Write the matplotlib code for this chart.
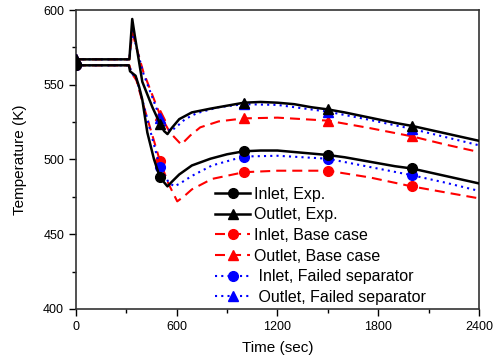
import matplotlib
matplotlib.use("Agg")
import matplotlib.pyplot as plt
from matplotlib.ticker import MultipleLocator
import numpy as np

plt.rcParams['font.family'] = ['Liberation Sans', 'DejaVu Sans']

# experimental data
t_in_exp = [0, 315, 322, 355, 375, 395, 425, 465, 500, 530, 545, 570, 615, 690, 800, 900,
            1000, 1100, 1200, 1300, 1400, 1500, 1600, 1750, 1900, 2000, 2200, 2400]
T_in_exp = [563, 563, 559, 556, 549, 540, 518, 500, 488, 484, 482, 485, 490, 496, 500.5, 503.5,
            505.5, 506, 506, 505, 504, 503, 501.5, 498.5, 495.5, 494, 489, 484]

t_out_exp = [0, 318, 335, 350, 395, 455, 500, 525, 545, 570, 615, 690, 800, 900,
             1000, 1100, 1200, 1300, 1400, 1500, 1600, 1750, 1900, 2000, 2200, 2400]
T_out_exp = [567, 567, 594, 583, 552, 535, 524, 519, 517, 521, 527, 531.5, 534, 536,
             538, 538.5, 538, 537, 535, 533.5, 531.5, 528, 524.5, 522.5, 517.5, 512.5]

# base case
t_in_base = [0, 318, 330, 360, 400, 450, 500, 550, 603, 640, 690, 810,
             1000, 1200, 1500, 1750, 2000, 2200, 2400]
T_in_base = [563, 563, 558, 553, 537, 518, 499, 484, 472, 475, 480, 487,
             491.5, 492.5, 492.5, 488, 482, 478, 474]

t_out_base = [0, 318, 335, 400, 500, 560, 627, 680, 740, 850,
              1000, 1200, 1500, 1750, 2000, 2200, 2400]
T_out_base = [567, 567, 585, 559, 530, 518, 510, 516, 521.5, 525.5,
              527.5, 528, 526, 521, 515.5, 510, 505]

# failed separator
t_in_fail = [0, 318, 330, 360, 400, 450, 500, 550, 585, 620, 690, 810,
             1000, 1200, 1500, 1750, 2000, 2200, 2400]
T_in_fail = [563, 563, 558, 554, 538, 516, 495, 485, 482, 484, 489, 496,
             502, 502.5, 500.5, 495, 489.5, 484.5, 479]

t_out_fail = [0, 318, 335, 400, 500, 540, 565, 600, 650, 720, 850,
              1000, 1200, 1500, 1750, 2000, 2200, 2400]
T_out_fail = [567, 567, 586, 558, 528, 521, 519, 522, 527, 531, 535,
              537, 536.5, 532, 526.5, 520.5, 515, 509.5]

marker_t = [0, 500, 1000, 1500, 2000]


def marks(t):
    return [t.index(m) for m in marker_t]


fig = plt.figure(figsize=(4.94, 3.6), dpi=100)
ax = fig.add_axes([0.1538, 0.1417, 0.8158, 0.8305])

red_dash = (0, (4.8, 2.9))
blue_dot = (0, (1, 2))

ax.plot(t_in_base, T_in_base, color='red', ls=red_dash, lw=1.5, marker='o', ms=7,
        markevery=marks(t_in_base), label='Inlet, Base case', zorder=2)
ax.plot(t_out_base, T_out_base, color='red', ls=red_dash, lw=1.5, marker='^', ms=7,
        markevery=marks(t_out_base), label='Outlet, Base case', zorder=2)
ax.plot(t_in_fail, T_in_fail, color='blue', ls=blue_dot, lw=1.5, marker='o', ms=7,
        markevery=marks(t_in_fail), label=' Inlet, Failed separator', zorder=3)
ax.plot(t_out_fail, T_out_fail, color='blue', ls=blue_dot, lw=1.5, marker='^', ms=7,
        markevery=marks(t_out_fail), label=' Outlet, Failed separator', zorder=3)
ax.plot(t_in_exp, T_in_exp, color='black', lw=1.8, marker='o', ms=7,
        markevery=marks(t_in_exp), label='Inlet, Exp.', zorder=4)
ax.plot(t_out_exp, T_out_exp, color='black', lw=1.8, marker='^', ms=7,
        markevery=marks(t_out_exp), label='Outlet, Exp.', zorder=4)

ax.set_xlim(0, 2400)
ax.set_ylim(400, 600)
ax.xaxis.set_major_locator(MultipleLocator(600))
ax.xaxis.set_minor_locator(MultipleLocator(300))
ax.yaxis.set_major_locator(MultipleLocator(50))
ax.yaxis.set_minor_locator(MultipleLocator(25))
ax.tick_params(which='both', direction='out', top=False, right=False, labelsize=9)
ax.tick_params(which='major', length=5, width=1)
ax.tick_params(which='minor', length=3, width=1)
for s in ax.spines.values():
    s.set_linewidth(1.2)
    s.set_color('#333333')

ax.set_xlabel('Time (sec)', fontsize=11, labelpad=6)
ax.set_ylabel('Temperature (K)', fontsize=11, labelpad=12)

h, l = ax.get_legend_handles_labels()
order = [4, 5, 0, 1, 2, 3]
ax.legend([h[i] for i in order], [l[i] for i in order], frameon=False, fontsize=11.5,
          loc='upper left', bbox_to_anchor=(0.329, 0.43), handlelength=2.2,
          handletextpad=0.25, labelspacing=0.35, borderaxespad=0)

fig.savefig('out.png', dpi=100)
